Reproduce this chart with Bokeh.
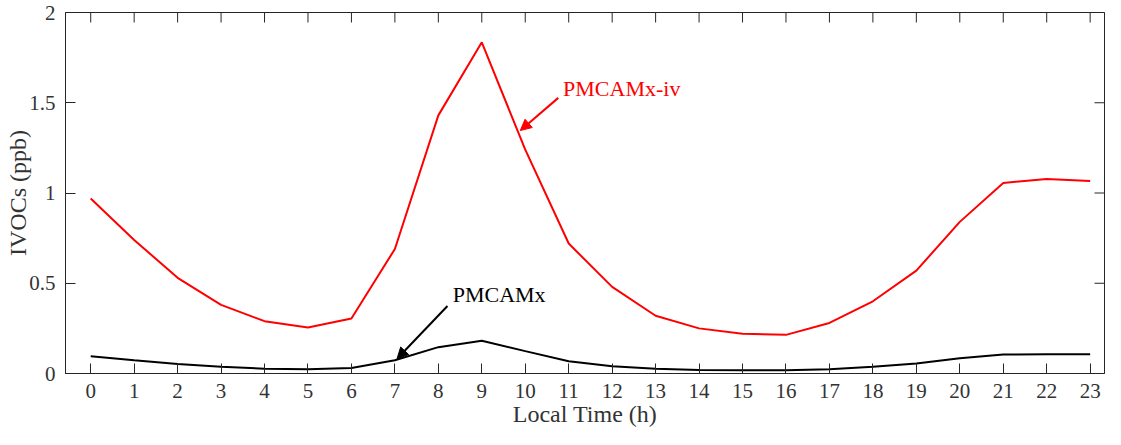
import math
from bokeh.plotting import figure
from bokeh.models import Range1d, FixedTicker, Arrow, NormalHead, Label
from bokeh.embed import file_html
from bokeh.resources import INLINE

# ---- data ----
hours = list(range(24))
pmcamx_iv = [0.97, 0.74, 0.53, 0.38, 0.29, 0.255, 0.305, 0.69, 1.43, 1.835,
             1.24, 0.72, 0.48, 0.32, 0.25, 0.22, 0.214, 0.28, 0.40, 0.57,
             0.84, 1.056, 1.078, 1.067]
pmcamx = [0.095, 0.073, 0.053, 0.037, 0.027, 0.024, 0.031, 0.073, 0.146, 0.181,
          0.124, 0.068, 0.040, 0.026, 0.020, 0.018, 0.018, 0.024, 0.037, 0.056,
          0.084, 0.105, 0.106, 0.106]
x_ticks = list(range(24))
y_ticks = [0, 0.5, 1, 1.5, 2]
y_tick_labels = {0: "0", 0.5: "0.5", 1: "1", 1.5: "1.5", 2: "2"}
x_label = "Local Time (h)"
y_label = "IVOCs (ppb)"
series_names = ["PMCAMx-iv", "PMCAMx"]
series_colors = ["#ff0000", "#000000"]

# annotation anchors (data coords)
ann_iv_text = (10.87, 1.58)
ann_iv_arrow = (10.76, 1.527, 9.886, 1.346)
ann_pm_text = (8.33, 0.438)
ann_pm_arrow = (8.21, 0.374, 7.05, 0.082)

X_MIN, X_MAX = -0.58, 23.33
Y_MIN, Y_MAX = 0, 2

FONT = "Liberation Serif"
AX = "#262626"
TXT = "#333333"

p = figure(width=1105, height=429, output_backend="svg", toolbar_location=None,
           x_range=Range1d(X_MIN, X_MAX), y_range=Range1d(Y_MIN, Y_MAX),
           min_border_left=65, min_border_right=1, min_border_top=12,
           min_border_bottom=10)
p.xgrid.visible = False
p.ygrid.visible = False
p.outline_line_color = AX
p.outline_line_width = 1

def style_axis(ax):
    ax.axis_line_color = AX
    ax.major_tick_line_color = AX
    ax.major_tick_in = 10
    ax.major_tick_out = 0
    ax.minor_tick_line_color = None
    ax.major_label_text_font = FONT
    ax.major_label_text_font_size = "21px"
    ax.major_label_text_color = TXT
    ax.axis_label_text_font = FONT
    ax.axis_label_text_font_size = "24px"
    ax.axis_label_text_font_style = "normal"
    ax.axis_label_text_color = TXT

xa = p.xaxis[0]
xa.ticker = FixedTicker(ticks=x_ticks)
style_axis(xa)
xa.axis_label = x_label
xa.major_label_standoff = 10
xa.axis_label_standoff = 0

ya = p.yaxis[0]
ya.ticker = FixedTicker(ticks=y_ticks)
ya.major_label_overrides = y_tick_labels
style_axis(ya)
ya.axis_label = y_label
ya.major_label_standoff = 10
ya.axis_label_standoff = -5

# inward ticks on the top and right frame edges (clipped to the frame)
p.scatter(x_ticks, [Y_MAX] * len(x_ticks), marker="dash", size=20,
          angle=math.pi / 2, line_color=AX, line_width=1)
p.scatter([X_MAX] * len(y_ticks), y_ticks, marker="dash", size=20,
          line_color=AX, line_width=1)

p.line(hours, pmcamx_iv, line_color=series_colors[0], line_width=2)
p.line(hours, pmcamx, line_color=series_colors[1], line_width=2)

for name, color, (tx, ty), (xs, ys, xe, ye) in [
        (series_names[0], series_colors[0], ann_iv_text, ann_iv_arrow),
        (series_names[1], series_colors[1], ann_pm_text, ann_pm_arrow)]:
    p.add_layout(Label(x=tx, y=ty, text=name, text_color=color, text_font=FONT,
                       text_font_size="22px", text_align="left", text_baseline="middle"))
    p.add_layout(Arrow(end=NormalHead(size=11, fill_color=color, line_color=color, line_width=1),
                       x_start=xs, y_start=ys, x_end=xe, y_end=ye,
                       line_color=color, line_width=2))

open("out.html", "w").write(file_html(p, INLINE))
